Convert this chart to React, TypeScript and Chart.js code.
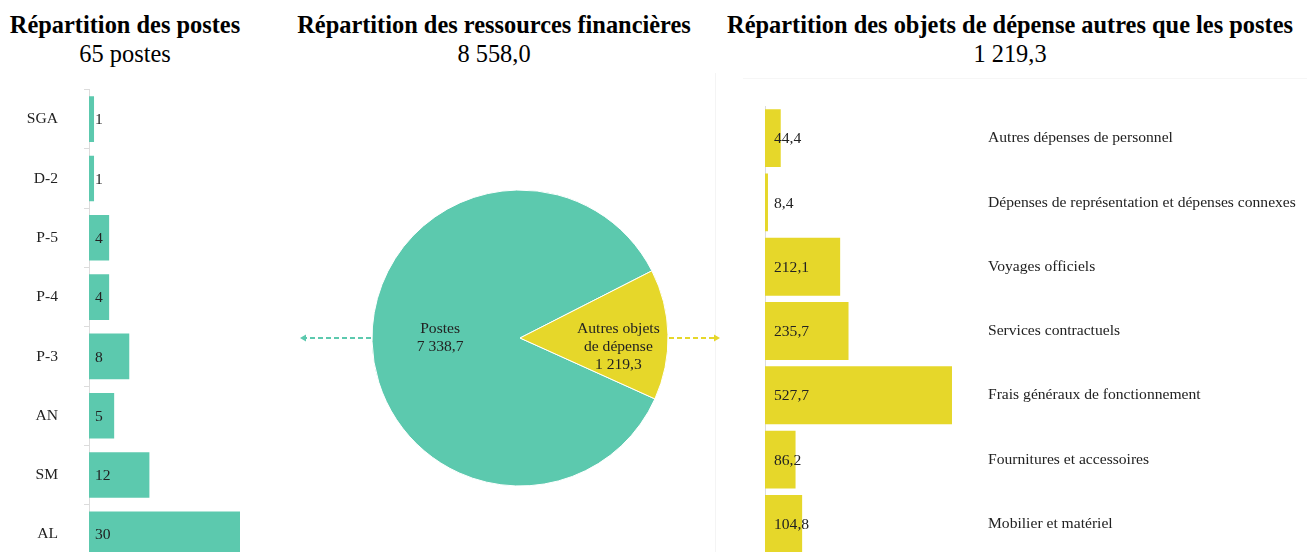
import React, { useEffect, useRef } from "react";
import { Chart, registerables } from "chart.js";

Chart.register(...registerables);

const SERIF = "'Liberation Serif', 'Times New Roman', serif";

const gradeLabels = ["SGA", "D-2", "P-5", "P-4", "P-3", "AN", "SM", "AL"];
const gradePosts = [1, 1, 4, 4, 8, 5, 12, 30];

const resourceLabels = ["Postes", "Autres objets de dépense"];
const resourceLabelLines = [["Postes"], ["Autres objets", "de dépense"]];
const resourceValues = [7338.7, 1219.3];

const expenseLabels = [
  "Autres dépenses de personnel",
  "Dépenses de représentation et dépenses connexes",
  "Voyages officiels",
  "Services contractuels",
  "Frais généraux de fonctionnement",
  "Fournitures et accessoires",
  "Mobilier et matériel",
];
const expenseValues = [44.4, 8.4, 212.1, 235.7, 527.7, 86.2, 104.8];

const TEAL = "#5CC9AE";
const YELLOW = "#E6D72A";
const TEXT = "#222222";
const AXIS = "#dcdcdc";
const LABEL_SIZE = 15.6;

function fmt(v: number, decimals: number): string {
  const s = v.toFixed(decimals);
  const [i, d] = s.split(".");
  const ii = i.replace(/\B(?=(\d{3})+(?!\d))/g, " ");
  return d ? ii + "," + d : ii;
}

const totalPosts = gradePosts.reduce((a, b) => a + b, 0);
const totalResources = resourceValues.reduce((a, b) => a + b, 0);
const totalExpenses = expenseValues.reduce((a, b) => a + b, 0);

const barValuesPlugin = {
  id: "barValues",
  afterDatasetsDraw(chart: any, _args: any, opts: any) {
    const ctx = chart.ctx;
    const meta = chart.getDatasetMeta(0);
    const data = chart.data.datasets[0].data as number[];
    ctx.save();
    ctx.font = `${opts.size}px ${SERIF}`;
    ctx.fillStyle = TEXT;
    ctx.textAlign = "left";
    ctx.textBaseline = "middle";
    meta.data.forEach((el: any, i: number) => {
      const p = el.getProps(["base", "y"], true);
      ctx.fillText(fmt(data[i], opts.decimals || 0), p.base + opts.offset, p.y + 1);
    });
    ctx.restore();
  },
};

const pieLabelsPlugin = {
  id: "pieLabels",
  afterDatasetsDraw(chart: any, _args: any, opts: any) {
    const ctx = chart.ctx;
    const meta = chart.getDatasetMeta(0);
    const data = chart.data.datasets[0].data as number[];
    ctx.save();
    ctx.font = `${opts.size}px ${SERIF}`;
    ctx.fillStyle = TEXT;
    ctx.textAlign = "center";
    ctx.textBaseline = "middle";
    meta.data.forEach((el: any, i: number) => {
      const p = el.getProps(["x", "y", "startAngle", "endAngle", "outerRadius"], true);
      const mid = (p.startAngle + p.endAngle) / 2;
      const r = p.outerRadius * opts.factors[i];
      const cx = p.x + Math.cos(mid) * r;
      const cy = p.y + Math.sin(mid) * r + (opts.dy ? opts.dy[i] : 0);
      const lines = [...resourceLabelLines[i], fmt(data[i], 1)];
      const lh = opts.lineHeight;
      const y0 = cy - ((lines.length - 1) * lh) / 2;
      lines.forEach((t, k) => ctx.fillText(t, cx, y0 + k * lh));
    });
    ctx.restore();
  },
};

const arrowsPlugin = {
  id: "pieArrows",
  afterDraw(chart: any, _args: any, opts: any) {
    const ctx = chart.ctx;
    const meta = chart.getDatasetMeta(0);
    const el = meta.data[0];
    if (!el) return;
    const p = el.getProps(["x", "y", "outerRadius"], true);
    const drawArrow = (x1: number, x2: number, color: string) => {
      const dir = Math.sign(x2 - x1);
      ctx.save();
      ctx.strokeStyle = color;
      ctx.fillStyle = color;
      ctx.lineWidth = 1.8;
      ctx.setLineDash([5, 3]);
      ctx.beginPath();
      ctx.moveTo(x1, p.y);
      ctx.lineTo(x2 - dir * 5, p.y);
      ctx.stroke();
      ctx.setLineDash([]);
      ctx.beginPath();
      ctx.moveTo(x2, p.y);
      ctx.lineTo(x2 - dir * 6, p.y - 3.5);
      ctx.lineTo(x2 - dir * 6, p.y + 3.5);
      ctx.closePath();
      ctx.fill();
      ctx.restore();
    };
    drawArrow(p.x - p.outerRadius - 1, p.x - p.outerRadius - opts.leftLength, TEAL);
    drawArrow(p.x + p.outerRadius + 1, p.x + p.outerRadius + opts.rightLength, YELLOW);
  },
};

function ChartCanvas({ config, style, width, height }: any) {
  const ref = useRef<HTMLCanvasElement | null>(null);
  useEffect(() => {
    const c = new Chart(ref.current as HTMLCanvasElement, config());
    return () => c.destroy();
  }, []);
  return <canvas ref={ref} width={width} height={height} style={{ position: "absolute", ...style }} />;
}

const fitWidth = (w: number) => (s: any) => {
  s.width = w;
  s.paddingTop = 0;
  s.paddingBottom = 0;
};

const gradesConfig = () => ({
  type: "bar",
  data: {
    labels: gradeLabels,
    datasets: [
      {
        data: gradePosts,
        backgroundColor: TEAL,
        barPercentage: 0.77,
        categoryPercentage: 1,
      },
    ],
  },
  options: {
    indexAxis: "y",
    responsive: false,
    animation: false,
    layout: { padding: { top: 89.5, right: 10, bottom: 0, left: 0 } },
    plugins: {
      legend: { display: false },
      tooltip: { enabled: false },
      barValues: { offset: 6, decimals: 0, size: LABEL_SIZE },
    },
    scales: {
      x: { display: false, min: 0, max: 30 },
      y: {
        afterFit: fitWidth(89),
        grid: { display: true, drawOnChartArea: false, drawTicks: true, tickLength: 5, color: AXIS, offset: true },
        border: { display: true, color: AXIS },
        ticks: { font: { family: SERIF, size: LABEL_SIZE }, color: TEXT, padding: 26 },
      },
    },
  },
  plugins: [barValuesPlugin],
});

const resourcesConfig = () => ({
  type: "pie",
  data: {
    labels: resourceLabels,
    datasets: [
      {
        data: resourceValues,
        backgroundColor: [TEAL, YELLOW],
        borderColor: "#ffffff",
        borderWidth: 1,
      },
    ],
  },
  options: {
    responsive: false,
    animation: false,
    rotation: 114.3,
    radius: 148,
    layout: { padding: { top: 190, bottom: 66, left: 0, right: 0 } },
    plugins: {
      legend: { display: false },
      tooltip: { enabled: false },
      pieLabels: { factors: [0.54, 0.665], lineHeight: 18, size: LABEL_SIZE, dy: [-1.5, 11.5] },
      pieArrows: { leftLength: 72, rightLength: 52 },
    },
  },
  plugins: [pieLabelsPlugin, arrowsPlugin],
});

const expensesConfig = () => ({
  type: "bar",
  data: {
    labels: expenseLabels,
    datasets: [
      {
        data: expenseValues,
        backgroundColor: YELLOW,
        barPercentage: 0.9,
        categoryPercentage: 1,
        yAxisID: "y",
      },
    ],
  },
  options: {
    indexAxis: "y",
    responsive: false,
    animation: false,
    layout: { padding: { top: 106, right: 0, bottom: 0, left: 0 } },
    plugins: {
      legend: { display: false },
      tooltip: { enabled: false },
      barValues: { offset: 9, decimals: 1, size: LABEL_SIZE },
    },
    scales: {
      x: { display: false, min: 0, max: 600 },
      y: {
        position: "left",
        afterFit: fitWidth(50),
        grid: { display: false, drawTicks: false },
        border: { display: true, color: AXIS },
        ticks: { display: false },
      },
      yNames: {
        type: "category",
        position: "right",
        offset: true,
        afterFit: fitWidth(329.4),
        grid: { display: false, drawTicks: false },
        border: { display: false },
        ticks: { font: { family: SERIF, size: LABEL_SIZE }, color: TEXT, padding: 10.4 },
      },
    },
  },
  plugins: [barValuesPlugin],
});

const titleStyle: React.CSSProperties = {
  position: "absolute",
  top: 10,
  textAlign: "center",
  fontFamily: SERIF,
  fontSize: 24.4,
  lineHeight: "29px",
  color: "#000",
  whiteSpace: "nowrap",
};

export default function App() {
  return (
    <div
      style={{
        position: "absolute",
        left: 0,
        top: 0,
        width: 1307,
        height: 552,
        overflow: "hidden",
        background: "#ffffff",
      }}
    >
      <div style={{ position: "absolute", left: 715, top: 73, width: 1, height: 479, background: "#f4f4f4" }} />
      <div style={{ position: "absolute", left: 743, top: 78, width: 564, height: 1, background: "#f6f6f6" }} />

      <div style={{ ...titleStyle, left: 0, width: 250 }}>
        <div style={{ fontWeight: "bold" }}>Répartition des postes</div>
        <div>{totalPosts} postes</div>
      </div>
      <div style={{ ...titleStyle, left: 294, width: 400 }}>
        <div style={{ fontWeight: "bold" }}>Répartition des ressources financières</div>
        <div>{fmt(totalResources, 1)}</div>
      </div>
      <div style={{ ...titleStyle, left: 710, width: 600 }}>
        <div style={{ fontWeight: "bold" }}>Répartition des objets de dépense autres que les postes</div>
        <div>{fmt(totalExpenses, 1)}</div>
      </div>

      <ChartCanvas config={gradesConfig} width={250} height={564} style={{ left: 0, top: 0 }} />
      <ChartCanvas config={resourcesConfig} width={460} height={552} style={{ left: 290, top: 0 }} />
      <ChartCanvas config={expensesConfig} width={592} height={556} style={{ left: 715, top: 0 }} />
    </div>
  );
}
